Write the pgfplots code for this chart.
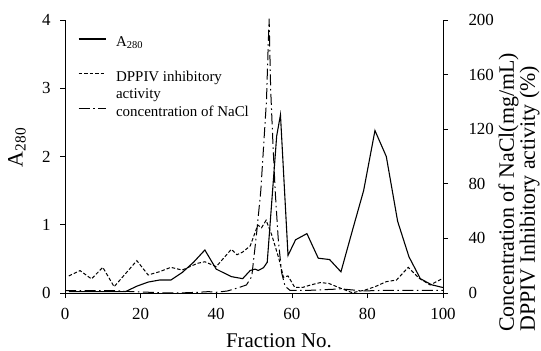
\documentclass[border=0pt]{standalone}
\usepackage{fontspec}
\setmainfont{Liberation Serif}
\usepackage{pgfplots}
\pgfplotsset{compat=1.18}
\pgfplotstableread{
f A
1 0.02
4 0.02
7 0.02
10 0.02
13 0.02
16 0.02
19 0.10
22 0.16
25 0.19
28 0.19
31 0.30
34 0.45
37 0.63
40 0.35
44 0.24
47 0.21
49 0.33
50.3 0.35
51.1 0.33
52.5 0.37
53.5 0.45
56 2.30
57 2.61
59 0.55
61 0.78
64 0.87
67 0.51
70 0.49
73 0.31
76 0.91
79 1.50
82 2.38
85 2.00
88 1.05
91 0.53
94 0.21
97 0.12
100 0.08
}\tabA
\pgfplotstableread{
f v
1 12.5
4 16.4
7 10.3
10 18.8
13 4.6
19 23.7
22 13.2
25 15.6
28 18.8
31 16.8
35 21.7
37 22.9
40 19.3
44 32
45.5 28
47 30
49 34.5
51 49.8
52 47.8
53.2 53.3
54.7 42.5
56.6 25
57.8 11.5
59 12.5
60.8 4
63 4.2
65 5.9
67.5 7.6
69.7 7.1
73 3.4
76 0.2
79.4 2.2
82 4.6
85 8.3
87.7 9.5
90.8 18.8
93.7 10.8
96.6 5.9
100 10.8
}\tabD
\pgfplotstableread{
f v
0 1.8
13 1.8
16 1.2
20 0.8
25 0.2
30 0
35 0.5
38 1.0
40 0.5
43 1.5
46 4
48 5.9
49.4 12
50.7 44
51.8 75
53.3 141
53.8 185
54.0 201
54.4 150
55.0 110
55.6 75
56.4 40
57.3 15
58.2 5
59.5 2
65 2
73 3
79 1.5
85 2
100 2
}\tabN
\begin{document}
\begin{tikzpicture}
\path[use as bounding box] (-65bp,-58bp) rectangle (476bp,293bp);
\begin{axis}[
  name=ax1,
  at={(0,0)}, anchor=south west,
  scale only axis, width=378bp, height=273bp,
  xmin=0, xmax=100, ymin=0, ymax=4,
  axis x line*=bottom, axis y line*=left,
  xtick={0,20,...,100}, ytick={0,1,2,3,4},
  tick align=outside, major tick length=5bp,
  tick style={line width=0.6bp, black},
  axis line style={line width=0.8bp},
  /pgf/number format/assume math mode=true,
  tick label style={font=\fontsize{17}{20}\selectfont},
  yticklabel style={xshift=-6bp},
  xticklabel style={yshift=-7bp},
  xlabel={Fraction No.},
  xlabel style={at={(axis description cs:0.566,-0.198)}, anchor=base, inner sep=0pt, font=\fontsize{21}{24}\selectfont},
  ylabel={A\textsubscript{280}},
  ylabel style={at={(axis description cs:-0.127,0.533)}, anchor=center, inner sep=0pt, font=\fontsize{22}{24}\selectfont},
]
\addplot[black, line width=1.1bp] table[x=f, y=A] {\tabA};
\end{axis}
\begin{axis}[
  at={(0,0)}, anchor=south west,
  scale only axis, width=378bp, height=273bp,
  xmin=0, xmax=100, ymin=0, ymax=200,
  axis y line*=right, axis x line=none,
  ytick={0,40,...,200},
  tick align=outside, major tick length=5bp,
  tick style={line width=0.6bp, black},
  axis line style={line width=0.8bp},
  /pgf/number format/assume math mode=true,
  tick label style={font=\fontsize{17}{20}\selectfont},
  yticklabel style={xshift=17bp},
  clip=false,
  legend cell align=left,
  legend image code/.code={\draw[#1] (0bp,4bp) -- (27bp,4bp);},
  legend style={draw=none, fill=none, inner sep=0pt, outer sep=0pt,
    at={(axis description cs:0.0344,0.946)}, anchor=north west,
    font=\fontsize{15}{16.5}\selectfont, row sep=1bp, column sep=10bp,
    nodes={inner sep=0pt, text height=11.5bp, text depth=5bp}},
]
\addlegendimage{black, line width=1.1bp}
\addlegendentry{A\textsubscript{280}}
\addlegendimage{empty legend}
\addlegendentry{}
\addplot[black, line width=1bp, dash pattern=on 3.5bp off 2bp] table[x=f, y=v] {\tabD};
\addlegendentry{DPPIV inhibitory}
\addlegendimage{empty legend}
\addlegendentry{activity}
\addplot[black, line width=1bp, dash pattern=on 11bp off 3.5bp on 1.5bp off 3.5bp] table[x=f, y=v] {\tabN};
\addlegendentry{concentration of NaCl}
\end{axis}
\node[rotate=90, anchor=west, align=left, inner sep=0pt, font=\fontsize{22}{17}\selectfont] at (454bp,-39bp) {Concentration of NaCl(mg/mL)\\DPPIV Inhibitory activity (\%)};
\end{tikzpicture}
\end{document}
